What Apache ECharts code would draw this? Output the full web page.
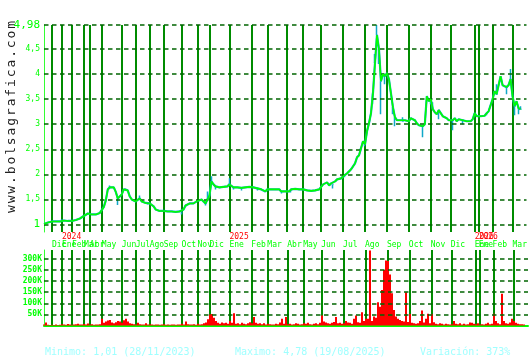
<!DOCTYPE html>
<html><head><meta charset="utf-8">
<script src="https://cdn.jsdelivr.net/npm/echarts@6/dist/echarts.min.js"></script>
<style>html,body{margin:0;padding:0;background:#fff}#c{width:530px;height:360px}</style>
</head><body><div id="c"></div>
<script>
// ---- data ----
const NUM_SESIONES = 243;
const cierre = [
1.01,1.02,1.04,1.05,1.06,1.05,1.06,1.07,1.06,1.09,
1.08,1.05,1.07,1.06,1.07,1.08,1.09,1.10,1.12,1.15,
1.17,1.20,1.22,1.21,1.20,1.20,1.20,1.21,1.23,1.26,
1.35,1.48,1.70,1.74,1.77,1.74,1.65,1.52,1.55,1.60,
1.70,1.70,1.68,1.56,1.50,1.49,1.46,1.48,1.52,1.46,
1.44,1.43,1.42,1.42,1.40,1.36,1.30,1.27,1.27,1.27,
1.27,1.26,1.26,1.27,1.26,1.26,1.25,1.26,1.26,1.24,
1.30,1.38,1.40,1.42,1.42,1.42,1.44,1.47,1.49,1.50,
1.48,1.42,1.50,1.58,1.86,1.80,1.76,1.78,1.74,1.77,
1.75,1.78,1.76,1.80,1.82,1.74,1.72,1.74,1.71,1.73,
1.72,1.74,1.72,1.75,1.76,1.74,1.76,1.72,1.74,1.70,
1.68,1.66,1.70,1.72,1.70,1.72,1.70,1.68,1.70,1.66,
1.68,1.66,1.64,1.66,1.70,1.72,1.71,1.72,1.70,1.72,
1.70,1.69,1.68,1.68,1.67,1.68,1.68,1.70,1.70,1.72,
1.80,1.82,1.84,1.78,1.82,1.80,1.86,1.90,1.88,1.92,
1.96,1.98,2.02,2.06,2.10,2.16,2.22,2.34,2.38,2.52,
2.66,2.60,2.86,3.02,3.22,3.62,4.22,4.78,4.50,3.86,
4.00,3.96,4.02,3.90,3.62,3.34,3.14,3.08,3.10,3.08,
3.06,3.08,3.07,3.06,3.12,3.10,3.08,3.02,2.98,3.00,
2.96,3.00,3.56,3.46,3.50,3.30,3.24,3.20,3.28,3.22,
3.16,3.14,3.12,3.08,3.10,3.08,3.12,3.06,3.10,3.12,
3.08,3.10,3.06,3.08,3.06,3.10,3.22,3.16,3.14,3.16,
3.15,3.17,3.22,3.26,3.24,3.50,3.66,3.60,3.62,3.96,
3.78,3.80,3.74,3.78,3.90,3.56,3.36,3.46,3.32,3.30,
null,null,null];
// intraday extremes that stand out from the close: [session, value]
const extremos = [[9,1.10],[12,1.09],[20,1.19],[23,1.23],[33,1.78],[37,1.39],[41,1.72],[48,1.58],[52,1.40],
[69,1.20],[71,1.35],[81,1.38],[82,1.66],[84,1.96],[86,1.70],[93,1.92],[95,1.70],[99,1.68],[107,1.68],
[119,1.62],[124,1.64],[145,1.72],[151,1.94],[159,2.46],[161,2.56],[165,3.40],[166,4.40],[167,4.98],
[168,4.20],[169,3.20],[171,3.80],[175,3.20],[176,2.96],[180,3.14],[190,2.74],[194,3.40],[195,3.44],
[198,3.10],[205,2.88],[210,3.00],[222,3.18],[227,3.80],[232,3.60],[234,4.10],[236,3.18],[238,3.20],[239,3.36]];
// volume in thousands
const volumenK = [
4,14,3,2,3,2,5,2,3,6, 4,3,7,4,3,4,6,8,5,4,
7,5,9,4,6,3,4,5,6,30, 12,18,22,25,14,10,15,20,18,12,
24,30,18,10,8,6,5,12,6,4, 5,10,4,6,4,3,5,4,3,4,
6,3,4,3,5,4,3,4,5,8, 4,18,6,5,4,6,3,8,5,6,
10,14,28,50,52,35,20,12,8,14, 10,12,8,20,12,55,8,10,6,12,
8,6,10,15,10,38,12,8,10,6, 10,4,8,6,5,4,8,6,14,30,
8,38,6,8,5,6,10,8,5,6, 10,8,12,6,5,8,10,6,12,45,
18,14,10,8,12,16,38,10,12,8, 10,20,14,12,8,30,45,15,12,60,
20,30,30,338,20,40,35,105,85,160, 250,293,290,230,145,70,40,30,25,20,
18,150,16,52,12,10,8,10,20,68, 14,30,53,10,52,15,8,6,10,8,
5,8,6,4,6,20,8,6,10,5, 8,4,6,14,12,8,6,10,4,6,
4,8,12,6,8,53,20,10,6,143, 20,10,8,14,30,20,12,8,6,6,
4,null,null];
const yTicksPrecio = [1,1.5,2,2.5,3,3.5,4,4.5,4.98];
const yTicksVolumen = [50000,100000,150000,200000,250000,300000];
const meses = ['Dic','Ene','Feb','Mar','Abr','May','Jun','Jul','Ago','Sep','Oct','Nov',
  'Dic','Ene','Feb','Mar','Abr','May','Jun','Jul','Ago','Sep','Oct','Nov','Dic','Ene','Ene','Feb','Mar'];
const inicioMes = [4,9,14,20,23,29,39,46,53,60,69,77,83,93,104,112,122,130,139,150,161,172,183,194,204,216,218,225,235];
const anios = {9:'2024',93:'2025',216:'2026',218:'2026'};
const textoMin = 'Minimo: 1,01 (28/11/2023)';
const textoMax = 'Maximo: 4,78 (19/08/2025)';
const textoVar = 'Variación: 373%';
const marca = 'www.bolsagrafica.com';

// ---- chart ----
const sesiones = Array.from({length: NUM_SESIONES}, (_, i) => String(i));
const mesDe = {}; inicioMes.forEach((k, i) => mesDe[k] = meses[i]);
const ULT = NUM_SESIONES - 1;
const esMes = (i) => mesDe[i] !== undefined;
// first/last sessions carry an empty label so no real label is treated as the axis min/max label
const conBordes = (f) => (i) => i === 0 || i === ULT || f(i);
const esAnio = (i) => anios[i] !== undefined;
const velas = cierre.map(() => '-');
extremos.forEach(([k, v]) => { const c = cierre[k]; velas[k] = [c, c, Math.min(c, v), Math.max(c, v)]; });
const volumen = volumenK.map(v => v == null ? null : v * 1000);

const MONO = "'DejaVu Sans Mono', monospace";
const GREEN = '#00ff00';
const VLINE = '#008c00';
const GRID_DASH = '#006400';
const CYAN = '#10a8c8';

const chart = echarts.init(document.getElementById('c'), null, {renderer: 'canvas'});
chart.setOption({
  animation: false,
  backgroundColor: '#ffffff',
  grid: [
    {left: 44, right: 2, top: 25, height: 207},
    {left: 44, right: 2, top: 250, height: 75.5}
  ],
  xAxis: [
    {type: 'category', gridIndex: 0, data: sesiones, boundaryGap: false, position: 'bottom',
     axisLine: {show: false}, axisTick: {show: false},
     axisLabel: {interval: conBordes(esMes), formatter: (v, i) => mesDe[i] || '', color: GREEN,
       fontFamily: MONO, fontSize: 8, align: 'left', margin: 9, verticalAlign: 'top', hideOverlap: false,
       showMinLabel: true, showMaxLabel: false},
     splitLine: {show: true, interval: (i) => esMes(i), lineStyle: {color: VLINE, width: 2}}},
    {type: 'category', gridIndex: 0, data: sesiones, boundaryGap: false, position: 'bottom',
     axisLine: {show: false}, axisTick: {show: false}, splitLine: {show: false},
     axisLabel: {interval: conBordes(esAnio), formatter: (v, i) => anios[i] || '', color: '#ff0000',
       fontFamily: MONO, fontSize: 8, align: 'left', margin: 1, verticalAlign: 'top', hideOverlap: false,
       showMinLabel: true, showMaxLabel: false}},
    {type: 'category', gridIndex: 1, data: sesiones, boundaryGap: false, position: 'bottom',
     axisLine: {show: true, lineStyle: {color: GREEN, width: 2}}, axisTick: {show: false},
     axisLabel: {show: false},
     splitLine: {show: true, interval: (i) => esMes(i), lineStyle: {color: VLINE, width: 2}}}
  ],
  yAxis: [
    {type: 'value', gridIndex: 0, min: 0.85, max: 4.98,
     axisLine: {show: true, lineStyle: {color: '#33ff33', width: 1}}, axisTick: {show: false},
     splitLine: {show: false},
     axisLabel: {customValues: yTicksPrecio, margin: 4, showMinLabel: true, showMaxLabel: true,
       formatter: (v) => {
         const s = String(v).replace('.', ',');
         return (v === 4.98 || v === 1) ? '{b|' + s + '}' : '{s|' + s + '}';
       },
       rich: {b: {color: GREEN, fontFamily: MONO, fontSize: 11}, s: {color: GREEN, fontFamily: MONO, fontSize: 8}}}},
    {type: 'value', gridIndex: 1, min: 0, max: 340000,
     axisLine: {show: true, lineStyle: {color: '#33ff33', width: 1}}, axisTick: {show: false},
     splitLine: {show: false},
     axisLabel: {customValues: yTicksVolumen, margin: 2, color: GREEN, fontFamily: MONO, fontSize: 8, fontWeight: 'bold',
       formatter: (v) => (v / 1000) + 'K'}}
  ],
  series: [
    {type: 'line', xAxisIndex: 0, yAxisIndex: 0, data: cierre, showSymbol: false,
     lineStyle: {color: CYAN, width: 2.2}, silent: true, z: 3,
     markLine: {silent: true, symbol: 'none', label: {show: false},
       lineStyle: {color: GRID_DASH, type: [4.5, 3.5], width: 1.6},
       data: yTicksPrecio.map(v => ({yAxis: v}))}},
    {type: 'candlestick', xAxisIndex: 0, yAxisIndex: 0, data: velas, barWidth: 1.5, silent: true, z: 4,
     itemStyle: {color: CYAN, color0: CYAN, borderColor: CYAN, borderColor0: CYAN, borderWidth: 1.5}},
    {type: 'line', xAxisIndex: 0, yAxisIndex: 0, data: cierre, showSymbol: false,
     lineStyle: {color: '#00ff00', width: 1.6}, silent: true, z: 5},
    {type: 'bar', xAxisIndex: 2, yAxisIndex: 1, data: volumen, barWidth: 2, silent: true,
     itemStyle: {color: '#ff0000'},
     markLine: {silent: true, symbol: 'none', label: {show: false},
       lineStyle: {color: GRID_DASH, type: [4.5, 3.5], width: 1.6},
       data: yTicksVolumen.map(v => ({yAxis: v}))}}
  ],
  graphic: [
    {type: 'text', x: 12, y: 117, rotation: Math.PI / 2,
     style: {text: marca.split('').map(ch => '{c|' + ch + '}').join(''), align: 'center', verticalAlign: 'middle',
       rich: {c: {width: 9.7, align: 'center', fontFamily: MONO, fontSize: 13, fill: '#222222'}}}},
    {type: 'text', x: 45, y: 352, style: {text: textoMin, fill: '#a0ffff', font: '10px ' + MONO, verticalAlign: 'middle'}},
    {type: 'text', x: 235, y: 352, style: {text: textoMax, fill: '#a0ffff', font: '10px ' + MONO, verticalAlign: 'middle'}},
    {type: 'text', x: 420, y: 352, style: {text: textoVar, fill: '#a0ffff', font: '10px ' + MONO, verticalAlign: 'middle'}}
  ]
});
</script></body></html>
